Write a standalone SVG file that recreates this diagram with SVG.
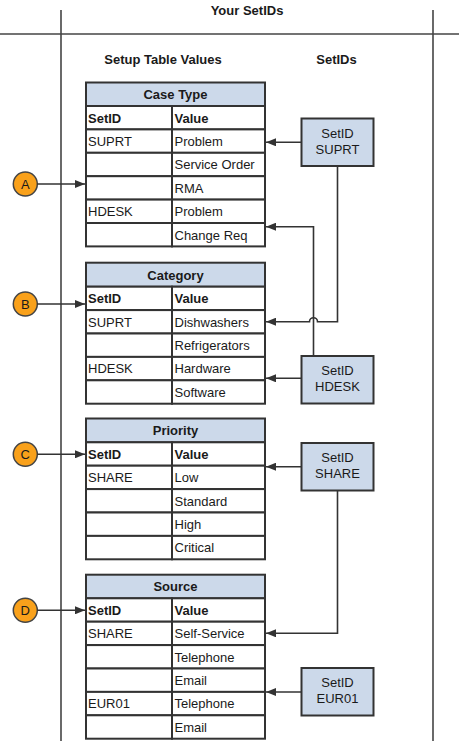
<svg xmlns="http://www.w3.org/2000/svg" width="459" height="741" viewBox="0 0 459 741">
<defs>
<marker id="ah" viewBox="0 0 10 8" refX="10" refY="4" markerWidth="10" markerHeight="8" markerUnits="userSpaceOnUse" orient="auto">
<path d="M0,0 L10,4 L0,8 Z" fill="#333333"/>
</marker>
</defs>
<style>
text{font-family:"Liberation Sans",Arial,sans-serif;font-size:13px;fill:#1a1a1a}
.b{font-weight:bold}
.c{text-anchor:middle}
.frame{stroke:#444;stroke-width:1.6;fill:none}
.hdr{fill:#ccd9ea;stroke:#333;stroke-width:2}
.cell{fill:#fff;stroke:#333;stroke-width:2}
.box{fill:#ccd9ea;stroke:#333;stroke-width:2}
.circ{fill:#f9a11b;stroke:#444;stroke-width:1.5}
.con{stroke:#333;stroke-width:1.6;fill:none}
.arr{stroke:#333;stroke-width:1.6;fill:none;marker-end:url(#ah)}
</style>
<rect width="459" height="741" fill="#fff"/>
<g id="frame">
<line class="frame" x1="61" y1="10" x2="61" y2="741"/>
<line class="frame" x1="433" y1="10" x2="433" y2="741"/>
<line class="frame" x1="0" y1="34" x2="459" y2="34"/>
<text class="b c" x="247" y="15">Your SetIDs</text>
<text class="b c" x="163" y="64">Setup Table Values</text>
<text class="b c" x="336.5" y="64">SetIDs</text>
</g>

<g id="case-type">
<rect class="hdr" x="86" y="82.5" width="179" height="23.5"/>
<text class="b c" x="175.5" y="99">Case Type</text>
<rect class="cell" x="86" y="106" width="86" height="23.4"/><rect class="cell" x="172" y="106" width="93" height="23.4"/>
<rect class="cell" x="86" y="129.4" width="86" height="23.4"/><rect class="cell" x="172" y="129.4" width="93" height="23.4"/>
<rect class="cell" x="86" y="152.8" width="86" height="23.4"/><rect class="cell" x="172" y="152.8" width="93" height="23.4"/>
<rect class="cell" x="86" y="176.2" width="86" height="23.4"/><rect class="cell" x="172" y="176.2" width="93" height="23.4"/>
<rect class="cell" x="86" y="199.6" width="86" height="23.4"/><rect class="cell" x="172" y="199.6" width="93" height="23.4"/>
<rect class="cell" x="86" y="223" width="86" height="23.4"/><rect class="cell" x="172" y="223" width="93" height="23.4"/>
<text class="b" x="88" y="122.5">SetID</text><text class="b" x="174.5" y="122.5">Value</text>
<text x="88" y="145.9">SUPRT</text><text x="174.5" y="145.9">Problem</text>
<text x="174.5" y="169.3">Service Order</text>
<text x="174.5" y="192.7">RMA</text>
<text x="88" y="216.1">HDESK</text><text x="174.5" y="216.1">Problem</text>
<text x="174.5" y="239.5">Change Req</text>
</g>

<g id="category">
<rect class="hdr" x="86" y="262.7" width="179" height="24"/>
<text class="b c" x="175.5" y="279.5">Category</text>
<rect class="cell" x="86" y="286.7" width="86" height="23.4"/><rect class="cell" x="172" y="286.7" width="93" height="23.4"/>
<rect class="cell" x="86" y="310.1" width="86" height="23.4"/><rect class="cell" x="172" y="310.1" width="93" height="23.4"/>
<rect class="cell" x="86" y="333.5" width="86" height="23.4"/><rect class="cell" x="172" y="333.5" width="93" height="23.4"/>
<rect class="cell" x="86" y="356.9" width="86" height="23.4"/><rect class="cell" x="172" y="356.9" width="93" height="23.4"/>
<rect class="cell" x="86" y="380.3" width="86" height="23.4"/><rect class="cell" x="172" y="380.3" width="93" height="23.4"/>
<text class="b" x="88" y="303.2">SetID</text><text class="b" x="174.5" y="303.2">Value</text>
<text x="88" y="326.6">SUPRT</text><text x="174.5" y="326.6">Dishwashers</text>
<text x="174.5" y="350">Refrigerators</text>
<text x="88" y="373.4">HDESK</text><text x="174.5" y="373.4">Hardware</text>
<text x="174.5" y="396.8">Software</text>
</g>

<g id="priority">
<rect class="hdr" x="86" y="418.5" width="179" height="23.8"/>
<text class="b c" x="175.5" y="435">Priority</text>
<rect class="cell" x="86" y="442.3" width="86" height="23.4"/><rect class="cell" x="172" y="442.3" width="93" height="23.4"/>
<rect class="cell" x="86" y="465.7" width="86" height="23.4"/><rect class="cell" x="172" y="465.7" width="93" height="23.4"/>
<rect class="cell" x="86" y="489.1" width="86" height="23.4"/><rect class="cell" x="172" y="489.1" width="93" height="23.4"/>
<rect class="cell" x="86" y="512.5" width="86" height="23.4"/><rect class="cell" x="172" y="512.5" width="93" height="23.4"/>
<rect class="cell" x="86" y="535.9" width="86" height="23.4"/><rect class="cell" x="172" y="535.9" width="93" height="23.4"/>
<text class="b" x="88" y="458.8">SetID</text><text class="b" x="174.5" y="458.8">Value</text>
<text x="88" y="482.2">SHARE</text><text x="174.5" y="482.2">Low</text>
<text x="174.5" y="505.6">Standard</text>
<text x="174.5" y="529">High</text>
<text x="174.5" y="552.4">Critical</text>
</g>

<g id="source">
<rect class="hdr" x="86" y="574.7" width="179" height="23.6"/>
<text class="b c" x="175.5" y="591">Source</text>
<rect class="cell" x="86" y="598.3" width="86" height="23.4"/><rect class="cell" x="172" y="598.3" width="93" height="23.4"/>
<rect class="cell" x="86" y="621.7" width="86" height="23.4"/><rect class="cell" x="172" y="621.7" width="93" height="23.4"/>
<rect class="cell" x="86" y="645.1" width="86" height="23.4"/><rect class="cell" x="172" y="645.1" width="93" height="23.4"/>
<rect class="cell" x="86" y="668.5" width="86" height="23.4"/><rect class="cell" x="172" y="668.5" width="93" height="23.4"/>
<rect class="cell" x="86" y="691.9" width="86" height="23.4"/><rect class="cell" x="172" y="691.9" width="93" height="23.4"/>
<rect class="cell" x="86" y="715.3" width="86" height="23.4"/><rect class="cell" x="172" y="715.3" width="93" height="23.4"/>
<text class="b" x="88" y="614.8">SetID</text><text class="b" x="174.5" y="614.8">Value</text>
<text x="88" y="638.2">SHARE</text><text x="174.5" y="638.2">Self-Service</text>
<text x="174.5" y="661.6">Telephone</text>
<text x="174.5" y="685">Email</text>
<text x="88" y="708.4">EUR01</text><text x="174.5" y="708.4">Telephone</text>
<text x="174.5" y="731.8">Email</text>
</g>

<g id="setid-suprt">
<rect class="box" x="301.5" y="118.5" width="72" height="47.5"/>
<text class="c" x="337.5" y="137.5">SetID</text>
<text class="c" x="337.5" y="153.5">SUPRT</text>
</g>
<g id="setid-hdesk">
<rect class="box" x="301.5" y="356" width="72" height="47.5"/>
<text class="c" x="337.5" y="375">SetID</text>
<text class="c" x="337.5" y="391">HDESK</text>
</g>
<g id="setid-share">
<rect class="box" x="301.5" y="443" width="72" height="47.5"/>
<text class="c" x="337.5" y="462">SetID</text>
<text class="c" x="337.5" y="478">SHARE</text>
</g>
<g id="setid-eur01">
<rect class="box" x="301.5" y="668" width="72" height="47.5"/>
<text class="c" x="337.5" y="687">SetID</text>
<text class="c" x="337.5" y="703">EUR01</text>
</g>

<g id="marker-a"><circle class="circ" cx="25.3" cy="184" r="12"/><text class="c" x="25.3" y="188.5">A</text></g>
<g id="marker-b"><circle class="circ" cx="25.3" cy="304" r="12"/><text class="c" x="25.3" y="308.5">B</text></g>
<g id="marker-c"><circle class="circ" cx="25.3" cy="454.3" r="12"/><text class="c" x="25.3" y="458.8">C</text></g>
<g id="marker-d"><circle class="circ" cx="25.3" cy="610.3" r="12"/><text class="c" x="25.3" y="614.8">D</text></g>

<g id="connectors">
<line class="arr" x1="37.3" y1="184" x2="85" y2="184"/>
<line class="arr" x1="37.3" y1="304" x2="85" y2="304"/>
<line class="arr" x1="37.3" y1="454.3" x2="85" y2="454.3"/>
<line class="arr" x1="37.3" y1="610.3" x2="85" y2="610.3"/>
<line class="arr" x1="301" y1="142.3" x2="266" y2="142.3"/>
<path class="arr" d="M337.5,166 V321.7 H317.5 A4,4 0 0 0 309.5,321.7 H266"/>
<path class="arr" d="M313.5,356 V226.7 H266"/>
<line class="arr" x1="301" y1="378.3" x2="266" y2="378.3"/>
<line class="arr" x1="301" y1="466.7" x2="266" y2="466.7"/>
<path class="arr" d="M337.5,490.5 V633.3 H266"/>
<line class="arr" x1="301" y1="692" x2="266" y2="692"/>
</g>
</svg>
